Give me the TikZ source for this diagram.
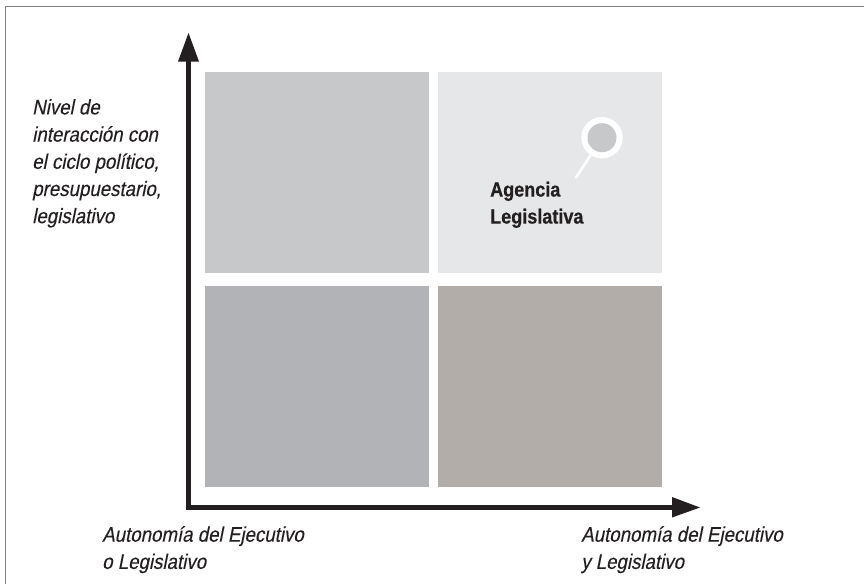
\documentclass[tikz,border=0pt]{standalone}
\usepackage{fontspec}
\setmainfont{Liberation Sans}
\newfontfamily\narrowit[FakeStretch=0.89,FakeSlant=0.2,FakeBold=0.15]{Liberation Sans}
\newfontfamily\narrowbf[FakeStretch=0.88,FakeBold=0.5]{Liberation Sans Bold}
\definecolor{ink}{HTML}{231F20}
\definecolor{cellA}{HTML}{C7C8CA}
\definecolor{cellB}{HTML}{E6E7E8}
\definecolor{cellC}{HTML}{B1B3B6}
\definecolor{cellD}{HTML}{B3ADA9}
\begin{document}
\begin{tikzpicture}[x=1pt,y=-1pt,
  cell/.style={draw=none,inner sep=0pt,outer sep=0pt,anchor=north west,minimum width=224pt,minimum height=200.5pt},
  axislabel/.style={inner sep=0pt,anchor=north west,align=left,text=ink,font=\narrowit\fontsize{21}{27.2}\selectfont},
  boldlabel/.style={inner sep=0pt,anchor=north west,align=left,text=ink,font=\narrowbf\fontsize{20.5}{27}\selectfont},
  axisline/.style={draw=ink,line width=5pt},
  axishead/.style={fill=ink,draw=none}]
\useasboundingbox (0,0) rectangle (864,584);
\fill[white] (0,0) rectangle (864,584);
\draw[draw=black!50!white,line width=1.6pt] (5.5,584) -- (5.5,6.5) -- (864,6.5);
\node[cell,fill=cellA] (tl) at (205,72) {};
\node[cell,fill=cellB] (tr) at (438,72) {};
\node[cell,fill=cellC] (bl) at (205,286) {};
\node[cell,fill=cellD] (br) at (438,286) {};
\coordinate (origin) at (188.5,507.5);
\coordinate (ytip) at (188.5,33);
\coordinate (ybase) at (188.5,61.5);
\coordinate (xtip) at (700,507.5);
\coordinate (xbase) at (672,507.5);
\draw[axisline,line cap=rect] (ybase) -- (origin) -- (xbase);
\fill[axishead] (ytip) -- (178,61.5) -- (199,61.5) -- cycle;
\fill[axishead] (xtip) -- (672,497) -- (672,517.5) -- cycle;
\node[circle,fill=white,inner sep=0pt,minimum size=41.5pt] (pinouter) at (602,137.7) {};
\node[circle,fill=cellA,inner sep=0pt,minimum size=29pt] (pininner) at (602,137.7) {};
\coordinate (pinend) at (575.7,178);
\draw[white,line width=2.6pt] (pinouter) -- (pinend);
\node[boldlabel] (agencia) at (490,181.5) {Agencia\\Legislativa};
\node[axislabel] (ylabel) at (32,99) {Nivel de\\interacción con\\el ciclo político,\\presupuestario,\\legislativo};
\node[axislabel] (xleft) at (102,526) {Autonomía del Ejecutivo\\o Legislativo};
\node[axislabel] (xright) at (581,526) {Autonomía del Ejecutivo\\y Legislativo};
\end{tikzpicture}
\end{document}
